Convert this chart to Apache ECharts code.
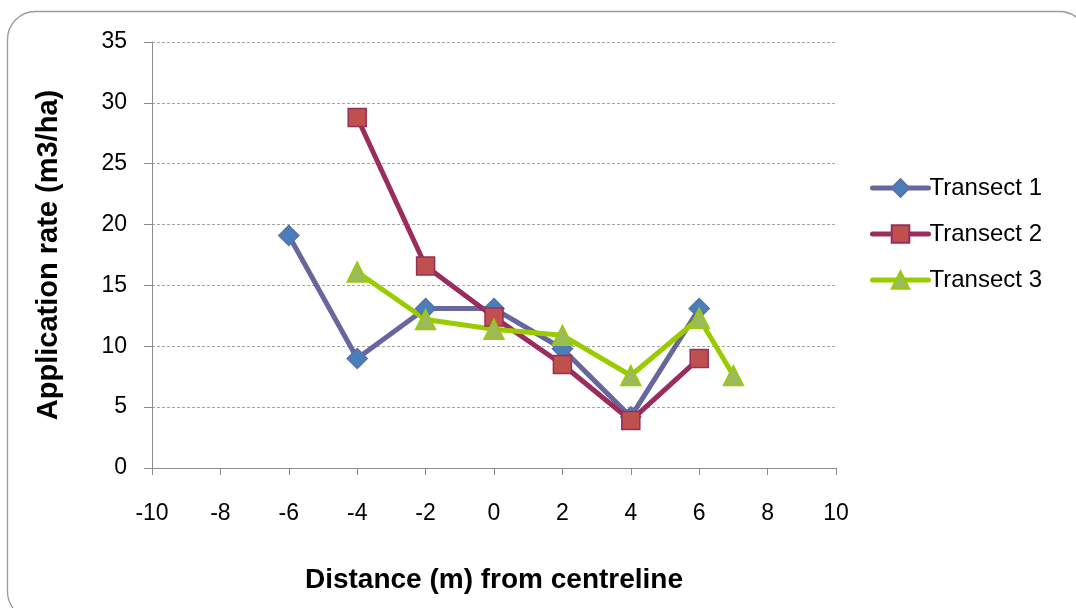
<!DOCTYPE html>
<html>
<head>
<meta charset="utf-8">
<script src="https://cdn.jsdelivr.net/npm/echarts@6/dist/echarts.min.js"></script>
<style>
  html, body { margin: 0; padding: 0; background: #fff; }
  #chart { width: 1076px; height: 608px; }
</style>
</head>
<body>
<div id="chart"></div>
<script>
// Distance from centreline (m) and measured application rate (m3/ha)
const transect1X = [-6, -4, -2, 0, 2, 4, 6];
const transect1Y = [19.1, 9.0, 13.1, 13.1, 9.8, 4.2, 13.1];

const transect2X = [-4, -2, 0, 2, 4, 6];
const transect2Y = [28.8, 16.6, 12.4, 8.5, 3.9, 9.0];

const transect3X = [-4, -2, 0, 2, 4, 6, 7];
const transect3Y = [16.1, 12.2, 11.4, 10.9, 7.6, 12.3, 7.6];

const seriesNames = ['Transect 1', 'Transect 2', 'Transect 3'];

const xAxisTitle = 'Distance (m) from centreline';
const yAxisTitle = 'Application rate (m3/ha)';

const FONT = '"Liberation Sans", Arial, sans-serif';

function pairs(xs, ys) {
  return xs.map((x, i) => [x, ys[i]]);
}

const chart = echarts.init(document.getElementById('chart'), null, { renderer: 'canvas' });

const lineSeries = (name, xs, ys, lineColor, fill, border, symbol, size) => ({
  name: name,
  type: 'line',
  data: pairs(xs, ys),
  symbol: symbol,
  symbolSize: size,
  showAllSymbol: true,
  lineStyle: { color: lineColor, width: 5, cap: 'round', join: 'round' },
  itemStyle: { color: fill, borderColor: border, borderWidth: 1.5 },
  emphasis: { disabled: true },
  animation: false
});

const legendItem = (name, lineColor) => ({
  name: name,
  lineStyle: { color: lineColor, width: 5, cap: 'round' }
});

chart.setOption({
  backgroundColor: '#ffffff',
  animation: false,
  graphic: [{
    type: 'rect',
    shape: { x: 7.5, y: 11.5, width: 1080, height: 608, r: 28 },
    style: { fill: 'none', stroke: '#9a9a9a', lineWidth: 1.3 },
    silent: true,
    z: -1
  }],
  grid: { left: 152, top: 42, width: 684, height: 426, containLabel: false },
  legend: {
    orient: 'vertical',
    left: 865,
    top: 171,
    itemWidth: 56,
    itemHeight: 22,
    itemGap: 22,
    data: [
      legendItem(seriesNames[0], '#67679e'),
      legendItem(seriesNames[1], '#9b2d5e'),
      legendItem(seriesNames[2], '#99cc00')
    ],
    textStyle: { fontFamily: FONT, fontSize: 24, color: '#000', padding: [0, 0, 0, -4] }
  },
  xAxis: {
    type: 'value',
    min: -10,
    max: 10,
    interval: 2,
    name: xAxisTitle,
    nameLocation: 'middle',
    nameGap: 98,
    nameTextStyle: { fontFamily: FONT, fontSize: 28, fontWeight: 'bold', color: '#000' },
    axisLine: { show: true, onZero: false, lineStyle: { color: '#8c8c8c', width: 1 } },
    axisTick: { show: true, inside: false, length: 7, lineStyle: { color: '#8c8c8c' } },
    axisLabel: { fontFamily: FONT, fontSize: 23, color: '#000', margin: 34 },
    splitLine: { show: false }
  },
  yAxis: {
    type: 'value',
    min: 0,
    max: 35,
    interval: 5,
    name: yAxisTitle,
    nameLocation: 'middle',
    nameGap: 89,
    nameRotate: 90,
    nameTextStyle: { fontFamily: FONT, fontSize: 29, fontWeight: 'bold', color: '#000' },
    axisLine: { show: true, onZero: false, lineStyle: { color: '#8c8c8c', width: 1 } },
    axisTick: { show: true, inside: false, length: 8, lineStyle: { color: '#8c8c8c' } },
    axisLabel: { fontFamily: FONT, fontSize: 23, color: '#000', margin: 25 },
    splitLine: { show: true, lineStyle: { color: '#a6a6a6', width: 1, type: [3, 2] } }
  },
  series: [
    lineSeries(seriesNames[0], transect1X, transect1Y, '#67679e', '#4a7ebb', '#5b6fa8', 'diamond', 20),
    lineSeries(seriesNames[1], transect2X, transect2Y, '#9b2d5e', '#c0504d', '#94305a', 'rect', 18),
    lineSeries(seriesNames[2], transect3X, transect3Y, '#99cc00', '#9bbb59', '#99cc00', 'triangle', 20)
  ]
});
</script>
</body>
</html>
